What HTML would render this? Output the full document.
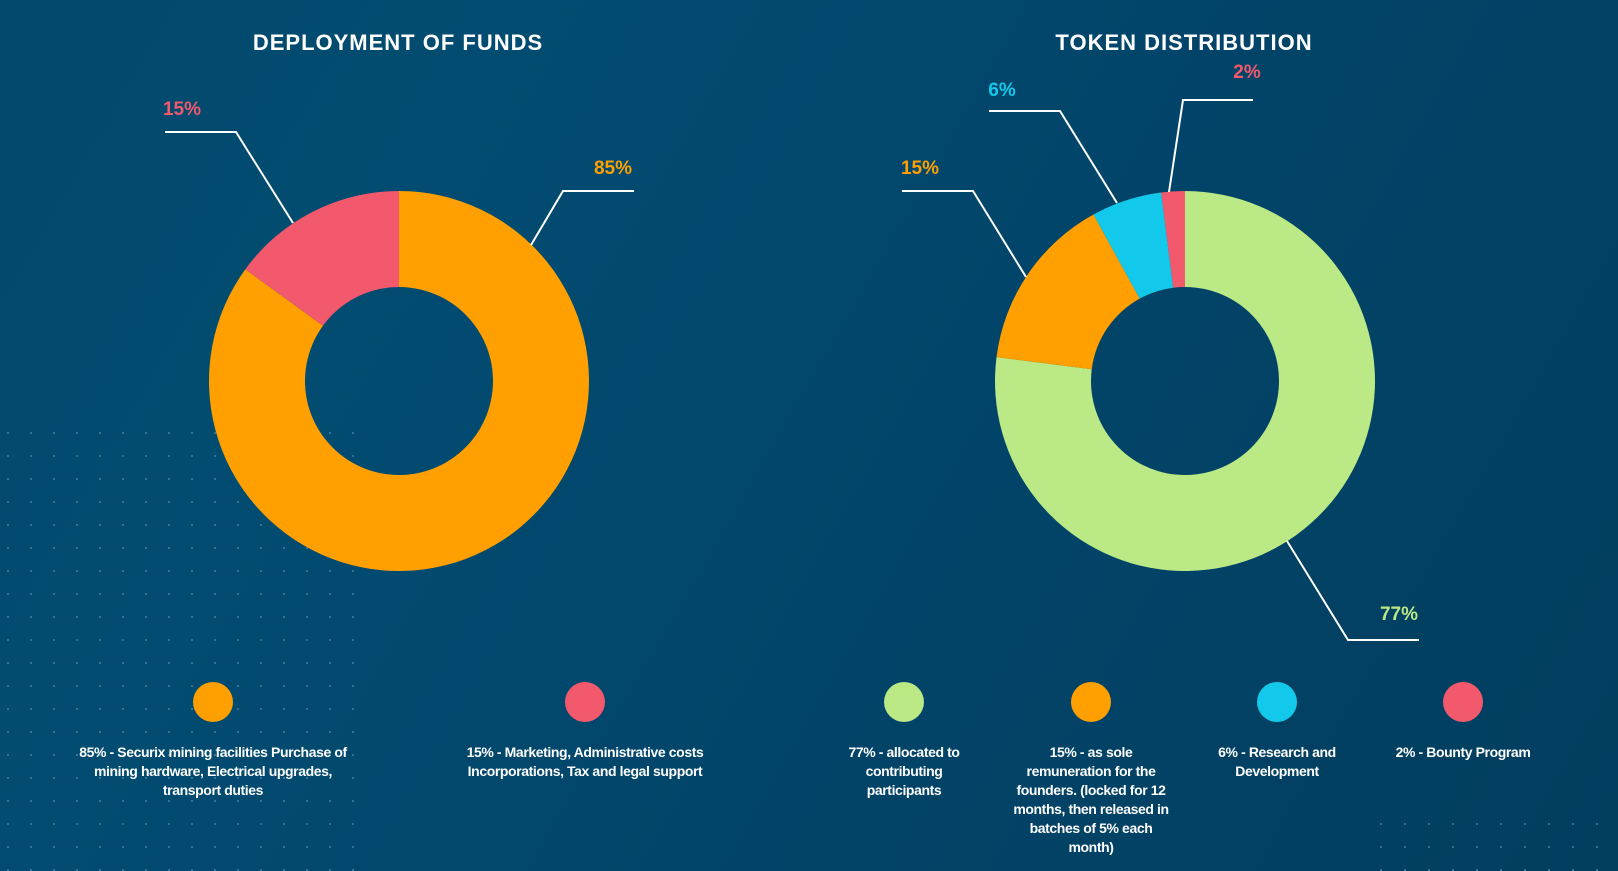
<!DOCTYPE html>
<html><head><meta charset="utf-8">
<style>
html,body{margin:0;padding:0}
body{width:1618px;height:871px;overflow:hidden;background:linear-gradient(120deg,#014a6d 0%,#024c71 25%,#02456a 55%,#023e5e 100%);position:relative;font-family:"Liberation Sans",sans-serif}
svg{position:absolute;left:0;top:0}
.leg{position:absolute;color:#fff;font-size:14px;font-weight:bold;line-height:19px;text-align:center;letter-spacing:-0.4px}
</style></head>
<body>
<svg id="s" width="1618" height="871"></svg>
<div class="leg" style="left:70px;top:743px;width:286px">85% - Securix mining facilities Purchase of mining hardware, Electrical upgrades, transport duties</div>
<div class="leg" style="left:430px;top:743px;width:310px">15% - Marketing, Administrative costs Incorporations, Tax and legal support</div>
<div class="leg" style="left:829px;top:743px;width:150px">77% - allocated to contributing participants</div>
<div class="leg" style="left:1013px;top:743px;width:156px">15% - as sole remuneration for the founders. (locked for 12 months, then released in batches of 5% each month)</div>
<div class="leg" style="left:1197px;top:743px;width:160px">6% - Research and Development</div>
<div class="leg" style="left:1378px;top:743px;width:170px">2% - Bounty Program</div>
<script>
const fundsValues=[85,15];
const fundsColors=['#ffa000','#f2596c'];
const tokenValues=[77,15,6,2];
const tokenColors=['#bbe986','#ffa000','#13c9eb','#f2596c'];
const NS='http://www.w3.org/2000/svg';
const s=document.getElementById('s');
function mk(t,a){const e=document.createElementNS(NS,t);for(const k in a)e.setAttribute(k,a[k]);s.appendChild(e);return e;}
for(let x=8;x<362;x+=23)for(let y=433;y<871;y+=23){const d=mk('circle',{cx:x,cy:y,r:1,fill:'#4a809c'});

}
for(let x=1381;x<1618;x+=24)for(let y=824;y<871;y+=23){const d=mk('circle',{cx:x,cy:y,r:1,fill:'#4a809c'});

}
function donut(cx,cy,vals,cols,name){
  const R=190,r=94;const tot=vals.reduce((a,b)=>a+b,0);let a0=0;
  vals.forEach((v,i)=>{
    const a1=a0+v/tot*2*Math.PI;
    const p=(ang,rr)=>[cx+rr*Math.sin(ang),cy-rr*Math.cos(ang)];
    const large=(a1-a0)>Math.PI?1:0;
    const [x1,y1]=p(a0,R),[x2,y2]=p(a1,R),[x3,y3]=p(a1,r),[x4,y4]=p(a0,r);
    const e=mk('path',{d:`M${x1},${y1}A${R},${R} 0 ${large} 1 ${x2},${y2}L${x3},${y3}A${r},${r} 0 ${large} 0 ${x4},${y4}Z`,fill:cols[i]});
    
    
    a0=a1;
  });
}
donut(399,381,fundsValues,fundsColors,'funds');
donut(1185,381,tokenValues,tokenColors,'token');
function title(x,y,t,n){const e=mk('text',{x:x,y:y,fill:'#fff','font-size':'22','font-weight':'bold','text-anchor':'middle','letter-spacing':'1'});e.textContent=t;

}
title(398,50,'DEPLOYMENT OF FUNDS','funds-title');
title(1184,50,'TOKEN DISTRIBUTION','token-title');
function callout(pts,tx,ty,txt,col,n){
  const l=mk('polyline',{points:pts.map(p=>p.join(',')).join(' '),fill:'none',stroke:'#fff','stroke-width':'2'});
  
  
  const t=mk('text',{x:tx,y:ty,fill:col,'font-size':'19','font-weight':'bold','text-anchor':'middle'});t.textContent=txt;
  
  
}
callout([[165,132],[236,132],[293,223]],182,115,fundsValues[1]+'%',fundsColors[1],'funds-15');
callout([[634,191],[563,191],[531,245]],613,174,fundsValues[0]+'%',fundsColors[0],'funds-85');
callout([[902,191],[973,191],[1026,277]],920,174,tokenValues[1]+'%',tokenColors[1],'token-15');
callout([[989,111],[1060,111],[1117,203]],1002,96,tokenValues[2]+'%',tokenColors[2],'token-6');
callout([[1253,100],[1183,100],[1169,192]],1247,78,tokenValues[3]+'%',tokenColors[3],'token-2');
callout([[1419,640],[1348,640],[1287,541]],1399,620,tokenValues[0]+'%',tokenColors[0],'token-77');
const legX=[213,585,904,1091,1277,1463];
const legC=[fundsColors[0],fundsColors[1],tokenColors[0],tokenColors[1],tokenColors[2],tokenColors[3]];
legX.forEach((x,i)=>{const c=mk('circle',{cx:x,cy:702,r:20,fill:legC[i]});

});
</script>
</body></html>
